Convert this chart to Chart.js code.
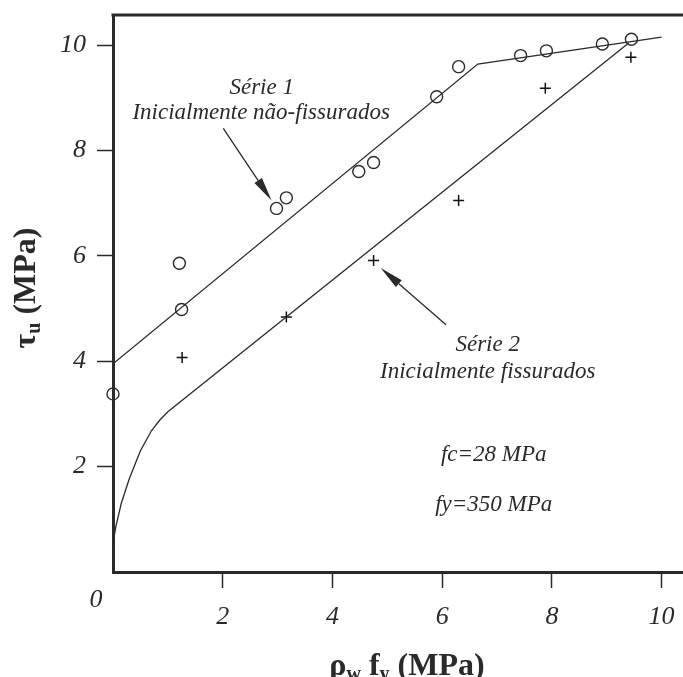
<!DOCTYPE html>
<html>
<head>
<meta charset="utf-8">
<script src="https://cdn.jsdelivr.net/npm/chart.js@4"></script>
<style>
  html, body { margin: 0; padding: 0; background: #fff; }
  #wrap { width: 683px; height: 677px; }
</style>
</head>
<body>
<div id="wrap"><canvas id="tauChart" width="683" height="677"></canvas></div>
<script>
// Série 1 - inicialmente não-fissurados (círculos)
let serie1X = [0, 1.21, 1.25, 2.98, 3.16, 4.48, 4.75, 5.90, 6.30, 7.43, 7.90, 8.92, 9.45];
let serie1Y = [3.38, 5.86, 4.98, 6.90, 7.10, 7.60, 7.77, 9.02, 9.59, 9.80, 9.89, 10.02, 10.11];

// Série 2 - inicialmente fissurados (cruzes)
let serie2X = [1.26, 3.16, 4.75, 6.30, 7.88, 9.44];
let serie2Y = [4.07, 4.84, 5.91, 7.05, 9.18, 9.77];

// curvas de ajuste
let ajuste1X = [0, 6.65, 10.0];
let ajuste1Y = [3.95, 9.64, 10.15];
let ajuste2X = [0, 0.05, 0.15, 0.3, 0.5, 0.7, 0.85, 1.0, 9.4];
let ajuste2Y = [0.55, 0.85, 1.3, 1.78, 2.3, 2.68, 2.88, 3.04, 10.04];

let xTicks = [2, 4, 6, 8, 10];
let yTicks = [2, 4, 6, 8, 10];

let ink = '#2a2a2a';
let serif = '"Liberation Serif", "Times New Roman", serif';

function pts(xs, ys) {
  return xs.map((x, i) => ({ x: x, y: ys[i] }));
}

// textos e setas sobre o gráfico, em unidades dos eixos
let notes = [
  { text: 'Série 1', x: 2.71, y: 9.18 },
  { text: 'Inicialmente não-fissurados', x: 2.70, y: 8.71 },
  { text: 'Série 2', x: 6.83, y: 4.31 },
  { text: 'Inicialmente fissurados', x: 6.83, y: 3.80 },
  { text: 'fc=28 MPa', x: 6.94, y: 2.22 },
  { text: 'fy=350 MPa', x: 6.94, y: 1.27 }
];
let arrows = [
  { from: [2.01, 8.42], to: [2.89, 7.05] },
  { from: [6.07, 4.69], to: [4.88, 5.77] }
];

function drawArrow(ctx, x1, y1, x2, y2) {
  let a = Math.atan2(y2 - y1, x2 - x1), len = 24, half = 4.5;
  let bx = x2 - len * Math.cos(a), by = y2 - len * Math.sin(a);
  ctx.beginPath();
  ctx.moveTo(x1, y1);
  ctx.lineTo(bx, by);
  ctx.stroke();
  ctx.beginPath();
  ctx.moveTo(x2, y2);
  ctx.lineTo(bx + half * Math.sin(a), by - half * Math.cos(a));
  ctx.lineTo(bx - half * Math.sin(a), by + half * Math.cos(a));
  ctx.closePath();
  ctx.fill();
}

// título com índices: partes [texto, subscrito?]
function drawTitle(ctx, parts, cx, baseY) {
  let big = 'bold 32px ' + serif, small = 'bold 20px ' + serif;
  let w = 0;
  parts.forEach(p => { ctx.font = p[1] ? small : big; w += ctx.measureText(p[0]).width; });
  let x = cx - w / 2;
  ctx.textAlign = 'left';
  ctx.textBaseline = 'alphabetic';
  parts.forEach(p => {
    ctx.font = p[1] ? small : big;
    ctx.fillText(p[0], x, baseY + (p[1] ? 5 : 0));
    x += ctx.measureText(p[0]).width;
  });
}

let extras = {
  id: 'extras',
  afterDraw(chart) {
    let ctx = chart.ctx, xs = chart.scales.x, ys = chart.scales.y, area = chart.chartArea;
    ctx.save();
    ctx.strokeStyle = ink;
    ctx.fillStyle = ink;

    // borda superior
    ctx.lineWidth = 3;
    ctx.beginPath();
    ctx.moveTo(area.left - 1.5, area.top);
    ctx.lineTo(area.right, area.top);
    ctx.stroke();

    ctx.font = 'italic 23px ' + serif;
    ctx.textAlign = 'center';
    ctx.textBaseline = 'middle';
    notes.forEach(n => ctx.fillText(n.text, xs.getPixelForValue(n.x), ys.getPixelForValue(n.y)));

    ctx.lineWidth = 1.3;
    arrows.forEach(a => drawArrow(ctx,
      xs.getPixelForValue(a.from[0]), ys.getPixelForValue(a.from[1]),
      xs.getPixelForValue(a.to[0]), ys.getPixelForValue(a.to[1])));

    // zero da origem
    ctx.font = 'italic 26px ' + serif;
    ctx.fillText('0', area.left - 17, area.bottom + 28);

    drawTitle(ctx, [['ρ', 0], ['w', 1], [' f', 0], ['y', 1], [' (MPa)', 0]], 407, 675);

    ctx.translate(35, 288);
    ctx.rotate(-Math.PI / 2);
    drawTitle(ctx, [['τ', 0], ['u', 1], [' (MPa)', 0]], 0, 0);
    ctx.restore();
  }
};

let tickFont = { family: serif, style: 'italic', size: 26 };

// sem folga extra para os rótulos nas pontas dos eixos
function noEdgePadding(s) {
  s.paddingLeft = 0;
  s.paddingRight = 0;
  s.paddingTop = 0;
  s.paddingBottom = 0;
}

new Chart(document.getElementById('tauChart').getContext('2d'), {
  type: 'scatter',
  data: {
    datasets: [
      {
        label: 'Série 1 - ajuste',
        data: pts(ajuste1X, ajuste1Y),
        showLine: true,
        borderColor: ink,
        borderWidth: 1.3,
        pointRadius: 0
      },
      {
        label: 'Série 2 - ajuste',
        data: pts(ajuste2X, ajuste2Y),
        showLine: true,
        borderColor: ink,
        borderWidth: 1.3,
        pointRadius: 0
      },
      {
        label: 'Série 1',
        data: pts(serie1X, serie1Y),
        pointStyle: 'circle',
        pointRadius: 6,
        pointBorderWidth: 1.4,
        pointBorderColor: ink,
        pointBackgroundColor: 'rgba(0,0,0,0)',
        clip: false
      },
      {
        label: 'Série 2',
        data: pts(serie2X, serie2Y),
        pointStyle: 'cross',
        pointRadius: 5.5,
        pointBorderWidth: 1.5,
        pointBorderColor: '#111'
      }
    ]
  },
  options: {
    responsive: false,
    animation: false,
    layout: { autoPadding: false, padding: { top: 15, right: 0, left: 0, bottom: 0 } },
    plugins: {
      legend: { display: false },
      tooltip: { enabled: false }
    },
    scales: {
      x: {
        type: 'linear',
        min: 0,
        max: 10.39,
        afterBuildTicks: s => { s.ticks = xTicks.map(v => ({ value: v })); },
        afterFit: s => { s.height = 105; noEdgePadding(s); },
        border: { color: ink, width: 3 },
        grid: { drawOnChartArea: false, tickLength: 16, tickColor: ink, tickWidth: 1.5 },
        ticks: { font: tickFont, color: ink, padding: 14, maxRotation: 0 }
      },
      y: {
        type: 'linear',
        min: 0,
        max: 10.57,
        afterBuildTicks: s => { s.ticks = yTicks.map(v => ({ value: v })); },
        afterFit: s => { s.width = 113; noEdgePadding(s); },
        border: { color: ink, width: 3 },
        grid: { drawOnChartArea: false, tickLength: 16, tickColor: ink, tickWidth: 1.5 },
        ticks: { font: tickFont, color: ink, padding: 11 }
      }
    }
  },
  plugins: [extras]
});
</script>
</body>
</html>
